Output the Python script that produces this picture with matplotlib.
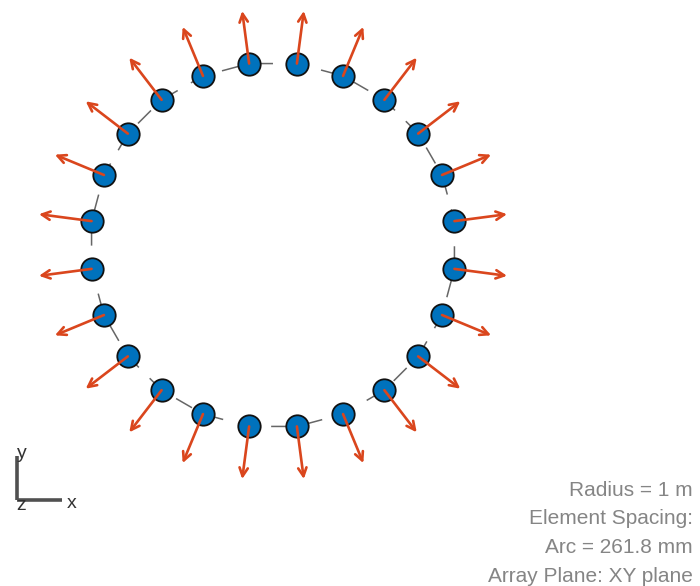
import numpy as np
import matplotlib.pyplot as plt

# Uniform circular array, 24 elements
element_angles_deg = [7.5, 22.5, 37.5, 52.5, 67.5, 82.5, 97.5, 112.5,
                      127.5, 142.5, 157.5, 172.5, 187.5, 202.5, 217.5, 232.5,
                      247.5, 262.5, 277.5, 292.5, 307.5, 322.5, 337.5, 352.5]
radius_m = 1.0
normal_length_m = 0.29
info_lines = ['Radius = 1 m', 'Element Spacing:', 'Arc = 261.8 mm',
              'Array Plane: XY plane']

plt.rcParams['font.family'] = ['Liberation Sans', 'DejaVu Sans']

W, H = 700, 586
fig = plt.figure(figsize=(W / 100, H / 100), dpi=100)
ax = fig.add_axes([0, 0, 1, 1])
ax.set_axis_off()

# map pixels: centre at (273, 245), 183 px per metre
scale = 183.0
cx, cy = 273.0, 245.0
ax.set_xlim(-cx / scale, (W - cx) / scale)
ax.set_ylim(-(H - cy) / scale, cy / scale)
ax.set_aspect('equal')

theta = np.deg2rad(element_angles_deg)
xs = radius_m * np.cos(theta)
ys = radius_m * np.sin(theta)

# grey outline between elements
ax.plot(np.append(xs, xs[0]), np.append(ys, ys[0]), color='#666666', lw=1.1,
        linestyle=(4, (12, 10)), zorder=1)

# elements
ax.scatter(xs, ys, s=260, c='#0072BD', edgecolors='#111111', linewidths=1.3,
           zorder=2)

# element normals
for x, y, t in zip(xs, ys, theta):
    ax.annotate('', xy=(x + normal_length_m * np.cos(t), y + normal_length_m * np.sin(t)),
                xytext=(x, y),
                arrowprops=dict(arrowstyle='->,head_length=0.6,head_width=0.3',
                                color='#DA461D', lw=1.9, shrinkA=0, shrinkB=0),
                zorder=3)

# axis triad, in pixel positions
def px(x, y):
    return x / W, 1 - y / H

tri_color = '#505050'
ox, oy = px(17, 500)
ax.plot([ox, px(17, 456)[0]], [oy, px(17, 456)[1]], color=tri_color, lw=2.6,
        transform=ax.transAxes, solid_capstyle='butt')
ax.plot([ox, px(62, 500)[0]], [oy, px(62, 500)[1]], color=tri_color, lw=2.6,
        transform=ax.transAxes, solid_capstyle='butt')
ax.text(*px(22, 454), 'y', transform=ax.transAxes, fontsize=14, color='#333333',
        ha='center', va='center')
ax.text(*px(72, 503), 'x', transform=ax.transAxes, fontsize=14, color='#333333',
        ha='center', va='center')
ax.text(*px(21, 505), 'z', transform=ax.transAxes, fontsize=14, color='#333333',
        ha='center', va='center')

# info text, bottom right
for i, line in enumerate(info_lines):
    ax.text(*px(693, 496 + i * 28.5), line, transform=ax.transAxes,
            fontsize=15, color='#858585', ha='right', va='baseline')

fig.savefig('out.png', dpi=100)
